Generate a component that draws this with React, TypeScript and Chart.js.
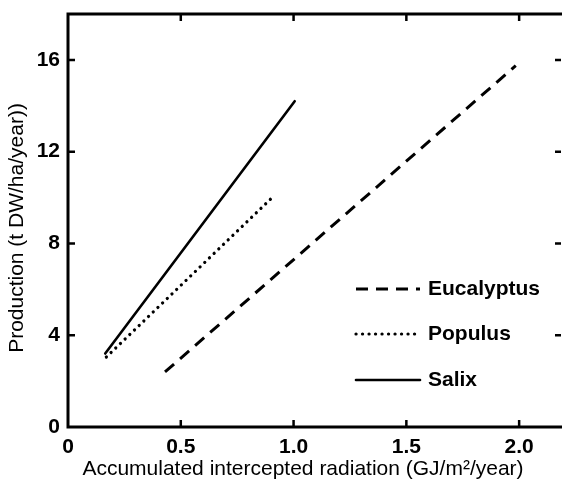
import React, { useEffect, useRef } from "react";
import { Chart, registerables } from "chart.js";

Chart.register(...registerables);

const seriesNames = ["Eucalyptus", "Populus", "Salix"];
const eucalyptusX = [0.43, 1.985];
const eucalyptusY = [2.4, 15.75];
const populusX = [0.17, 0.905];
const populusY = [3.05, 10.0];
const salixX = [0.165, 1.005];
const salixY = [3.2, 14.2];
const xTicks = [0, 0.5, 1.0, 1.5, 2.0];
const yTicks = [0, 4, 8, 12, 16];
const xTitle = "Accumulated intercepted radiation (GJ/m\u00b2/year)";
const yTitle = "Production (t DW/ha/year))";

const FONT = "'Liberation Sans', Arial, Helvetica, sans-serif";

const toPts = (xs: number[], ys: number[]) => xs.map((x, i) => ({ x, y: ys[i] }));

const framePlugin = {
  id: "frame",
  afterDatasetsDraw(chart: any) {
    const { ctx, chartArea } = chart;
    const xs = chart.scales.x;
    const ys = chart.scales.y;
    const { left, right, top, bottom } = chartArea;
    ctx.save();
    ctx.strokeStyle = "#000";
    ctx.lineWidth = 3;
    ctx.lineCap = "butt";
    ctx.beginPath();
    ctx.moveTo(left, top);
    ctx.lineTo(right, top);
    ctx.moveTo(left, top - 1.5);
    ctx.lineTo(left, bottom + 1.5);
    ctx.moveTo(left, bottom);
    ctx.lineTo(right, bottom);
    ctx.stroke();
    ctx.lineWidth = 2.5;
    ctx.beginPath();
    xTicks.forEach((v) => {
      if (v === 0) return;
      const px = xs.getPixelForValue(v);
      ctx.moveTo(px, bottom);
      ctx.lineTo(px, bottom - 7);
      ctx.moveTo(px, top);
      ctx.lineTo(px, top + 7);
    });
    yTicks.forEach((v) => {
      if (v === 0) return;
      const py = ys.getPixelForValue(v);
      ctx.moveTo(left, py);
      ctx.lineTo(left + 7, py);
      ctx.moveTo(right - 1, py);
      ctx.lineTo(right - 7, py);
    });
    ctx.stroke();

    // axis titles
    ctx.fillStyle = "#000";
    ctx.font = `21px ${FONT}`;
    ctx.textAlign = "center";
    ctx.textBaseline = "middle";
    ctx.fillText(xTitle, 303, 469);
    ctx.save();
    ctx.translate(17, 228);
    ctx.rotate(-Math.PI / 2);
    ctx.fillText(yTitle, 0, 0);
    ctx.restore();
    ctx.restore();
  },
};

const legendPlugin = {
  id: "customLegend",
  afterDatasetsDraw(chart: any) {
    const { ctx } = chart;
    const rows = [289, 334, 380];
    const x0 = 356;
    const x1 = 420;
    ctx.save();
    chart.data.datasets.forEach((ds: any, i: number) => {
      const y = rows[i];
      ctx.strokeStyle = ds.borderColor;
      ctx.lineWidth = ds.borderWidth;
      ctx.lineCap = ds.borderCapStyle || "butt";
      ctx.setLineDash(ds.borderDash || []);
      ctx.beginPath();
      ctx.moveTo(x0, y);
      ctx.lineTo(x1, y);
      ctx.stroke();
      ctx.setLineDash([]);
      ctx.fillStyle = "#000";
      ctx.font = `bold 21px ${FONT}`;
      ctx.textBaseline = "middle";
      ctx.textAlign = "left";
      ctx.fillText(ds.label, 428, y);
    });
    ctx.restore();
  },
};

export default function App() {
  const ref = useRef<HTMLCanvasElement | null>(null);
  useEffect(() => {
    if (!ref.current) return;
    const chart = new Chart(ref.current, {
      type: "scatter",
      data: {
        datasets: [
          {
            label: seriesNames[0],
            data: toPts(eucalyptusX, eucalyptusY),
            showLine: true,
            borderColor: "#000",
            borderWidth: 3,
            borderDash: [12, 8],
            borderCapStyle: "butt",
            pointRadius: 0,
          },
          {
            label: seriesNames[1],
            data: toPts(populusX, populusY),
            showLine: true,
            borderColor: "#000",
            borderWidth: 3.2,
            borderDash: [0.1, 6.4],
            borderCapStyle: "round",
            pointRadius: 0,
          },
          {
            label: seriesNames[2],
            data: toPts(salixX, salixY),
            showLine: true,
            borderColor: "#000",
            borderWidth: 2.6,
            borderCapStyle: "round",
            pointRadius: 0,
          },
        ] as any,
      },
      options: {
        responsive: false,
        animation: false,
        layout: { padding: { top: 14, right: 0, left: 0, bottom: 0 } },
        plugins: {
          legend: { display: false },
          tooltip: { enabled: false },
        },
        scales: {
          x: {
            type: "linear",
            min: 0,
            max: 2.19,
            grid: { display: false },
            border: { display: false },
            afterFit: (s: any) => {
              s.height = 62;
              s.paddingLeft = 0;
              s.paddingRight = 0;
            },
            afterBuildTicks: (s: any) => {
              s.ticks = xTicks.map((v) => ({ value: v }));
            },
            ticks: {
              padding: 0,
              color: "#000",
              font: { family: FONT, size: 21, weight: "bold" },
              maxRotation: 0,
              callback: (v: any) => (Number(v) === 0 ? "0" : Number(v).toFixed(1)),
            },
            title: { display: false },
          },
          y: {
            type: "linear",
            min: 0,
            max: 18,
            grid: { display: false },
            border: { display: false },
            afterFit: (s: any) => {
              s.width = 68;
              s.paddingTop = 0;
              s.paddingBottom = 0;
            },
            afterBuildTicks: (s: any) => {
              s.ticks = yTicks.map((v) => ({ value: v }));
            },
            ticks: {
              padding: 0,
              color: "#000",
              font: { family: FONT, size: 21, weight: "bold" },
              callback: (v: any) => String(v),
            },
            title: { display: false },
          },
        },
      } as any,
      plugins: [framePlugin, legendPlugin],
    });
    return () => chart.destroy();
  }, []);
  return (
    <div style={{ position: "fixed", left: 0, top: 0, width: 562, height: 489, background: "#fff" }}>
      <canvas ref={ref} width={562} height={489} style={{ display: "block" }} />
    </div>
  );
}
